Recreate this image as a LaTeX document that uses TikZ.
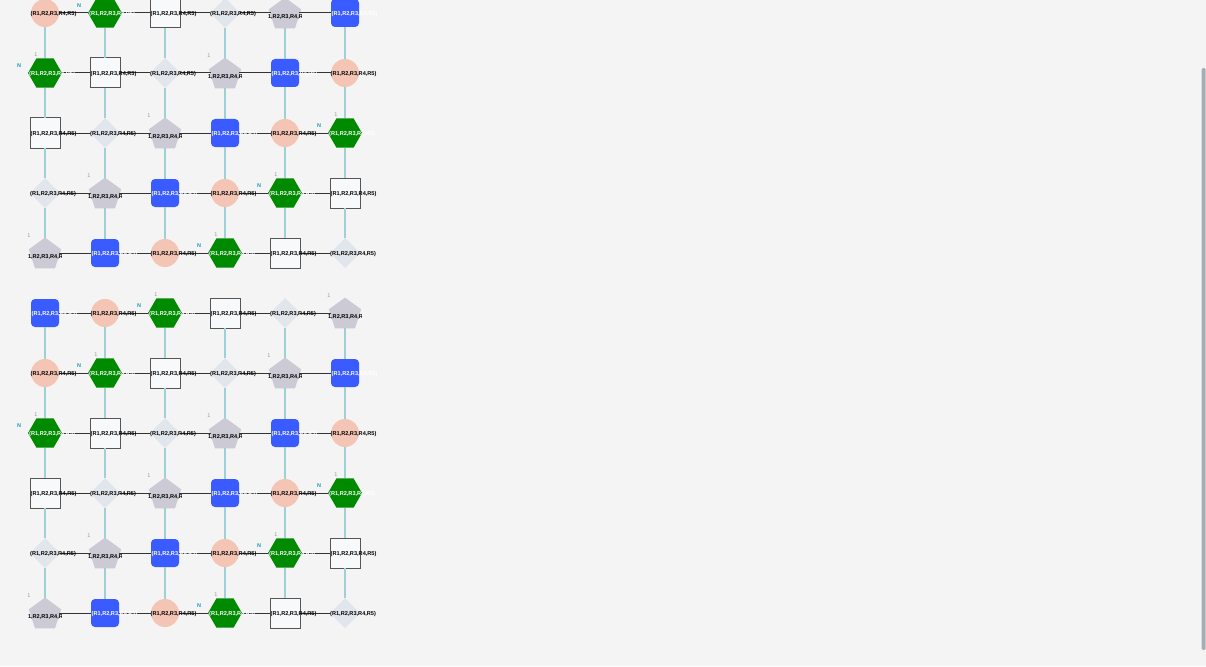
\documentclass[tikz,border=0pt]{standalone}
\usepackage{fontspec}
\setmainfont{Liberation Sans}
\usetikzlibrary{shapes.geometric}
\usetikzlibrary{positioning}
\definecolor{bgcol}{HTML}{F4F4F4}
\definecolor{peachcol}{HTML}{F4C5B5}
\definecolor{hexcol}{HTML}{008A00}
\definecolor{boxcol}{HTML}{F8F9FB}
\definecolor{boxline}{HTML}{555555}
\definecolor{rhombcol}{HTML}{E1E5EC}
\definecolor{pentcol}{HTML}{CCCAD5}
\definecolor{bluecol}{HTML}{3A5BFF}
\definecolor{vlinecol}{HTML}{9DD1D5}
\definecolor{hlinecol}{HTML}{333333}
\definecolor{ntagcol}{HTML}{1A9CBC}
\definecolor{numcol}{HTML}{9A9A9A}
\definecolor{scrollcol}{HTML}{A8ACB3}
\tikzset{cell/.style={inner sep=0pt,outer sep=0pt},
peach/.style={cell,circle,minimum size=28pt,fill=peachcol},
hexa/.style={cell,regular polygon,regular polygon sides=6,minimum size=34pt,fill=hexcol},
box/.style={cell,rectangle,minimum size=30pt,fill=boxcol,draw=boxline,line width=1pt},
rhomb/.style={cell,diamond,minimum width=30pt,minimum height=30pt,fill=rhombcol},
penta/.style={cell,regular polygon,regular polygon sides=5,minimum size=34pt,fill=pentcol},
bluebox/.style={cell,rectangle,rounded corners=4pt,minimum size=28pt,fill=bluecol},
hline/.style={draw=hlinecol,line width=1pt},
vline/.style={draw=vlinecol,line width=2pt},
lbl/.style={inner sep=0pt,font=\fontsize{5.6}{6}\selectfont\bfseries},
ntag/.style={inner sep=0pt,text=ntagcol,font=\fontsize{5.5}{6}\selectfont\bfseries},
numtag/.style={inner sep=0pt,text=numcol,font=\fontsize{5.5}{6}\selectfont}}

\begin{document}
\begin{tikzpicture}[x=1pt,y=-1pt]
\useasboundingbox (0,0) rectangle (1206,666);
\fill[bgcol] (0,0) rectangle (1206,666);
\fill[scrollcol,rounded corners=1.5pt] (1201.5,68) rectangle (1205.5,650);

% grid of cells
\foreach \r in {0,...,10}{
\foreach \c in {0,...,5}{
  \pgfmathtruncatemacro\t{mod(\r+\c,6)}
  \ifcase\t \def\sty{peach}\or\def\sty{hexa}\or\def\sty{box}\or\def\sty{rhomb}\or\def\sty{penta}\or\def\sty{bluebox}\fi
  \ifnum\t=4
    \node[\sty] (n-\r-\c) at (45+60*\c,14.6+60*\r) {};
  \else
    \node[\sty] (n-\r-\c) at (45+60*\c,13+60*\r) {};
  \fi
}}

% connectors
\foreach \r in {0,...,10}{
\foreach \c [count=\cc] in {0,...,4}{
  \draw[hline] (n-\r-\c.east |- 0,13+60*\r) -- (n-\r-\cc.west |- 0,13+60*\r);
}}
\foreach \r [evaluate=\r as \rr using int(\r+1)] in {0,1,2,3,5,6,7,8,9}{
\foreach \c in {0,...,5}{
  \draw[vline] (n-\r-\c) -- (n-\rr-\c);
}}

% labels
\foreach \r in {0,...,10}{
\foreach \c in {0,...,5}{
  \pgfmathtruncatemacro\t{mod(\r+\c,6)}
  \ifcase\t
    \node[lbl,anchor=west,text=black] (l-\r-\c) at (45+60*\c-14.5,14.5+60*\r) {(R1,R2,R3,R4,R5)};
  \or
    \node[lbl,anchor=west,text=white] (l-\r-\c) at (45+60*\c-16,14.5+60*\r) {(R1,R2,R3,R4,R5)};
    \ifnum\r>0 \node[numtag] (o-\r-\c) at (45+60*\c-9,13+60*\r-18) {1};\fi
    \node[ntag] (m-\r-\c) at (45+60*\c-26,13+60*\r-7) {N};
  \or
    \node[lbl,anchor=west,text=black] (l-\r-\c) at (45+60*\c-14.5,14.5+60*\r) {(R1,R2,R3,R4,R5)};
  \or
    \node[lbl,anchor=west,text=black] (l-\r-\c) at (45+60*\c-15,14.5+60*\r) {(R1,R2,R3,R4,R5)};
  \or
    \begin{scope}
      \clip (45+60*\c-16.5,60*\r-10) rectangle (45+60*\c+16.5,60*\r+36);
      \node[lbl,text=black] (l-\r-\c) at (45+60*\c,17.5+60*\r) {(R1,R2,R3,R4,R5)};
    \end{scope}
    \ifnum\r>0 \node[numtag] (o-\r-\c) at (45+60*\c-16,13+60*\r-17) {1};\fi
  \or
    \node[lbl,anchor=west,text=white] (l-\r-\c) at (45+60*\c-13.5,14.5+60*\r) {(R1,R2,R3,R4,R5)};
  \fi
}}

\end{tikzpicture}
\end{document}
